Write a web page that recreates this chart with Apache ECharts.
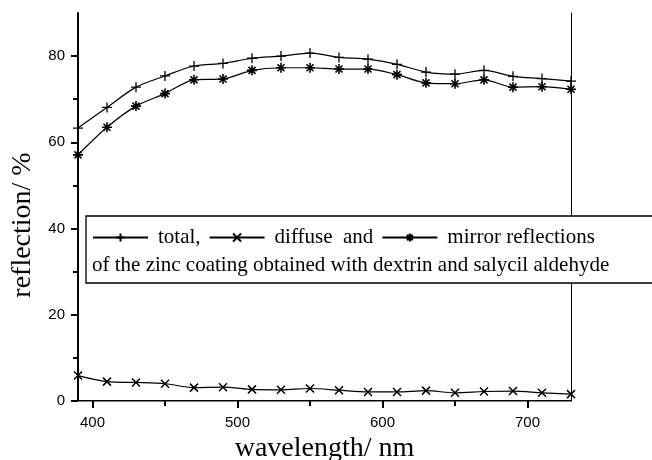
<!DOCTYPE html>
<html>
<head>
<meta charset="utf-8">
<script src="https://cdn.jsdelivr.net/npm/echarts@6/dist/echarts.min.js"></script>
<style>
html,body{margin:0;padding:0;background:#fff;}
#chart{width:652px;height:460px;}
</style>
</head>
<body>
<div id="chart"></div>
<script>
const wavelengths = [390,410,430,450,470,490,510,530,550,570,590,610,630,650,670,690,710,730];
const totalRefl   = [63.3,68.1,72.8,75.4,77.7,78.3,79.5,80.0,80.7,79.7,79.3,78.1,76.3,75.8,76.7,75.3,74.8,74.2];
const diffuseRefl = [5.9,4.5,4.3,4.0,3.1,3.2,2.7,2.6,2.9,2.5,2.1,2.1,2.4,1.9,2.2,2.3,1.9,1.6];
const mirrorRefl  = [57.1,63.5,68.4,71.3,74.5,74.7,76.7,77.3,77.3,77.0,77.0,75.7,73.8,73.6,74.5,72.8,72.9,72.3];
const xMajorTicks = [400,500,600,700];
const xMinorTicks = [450,550,650];
const yMajorTicks = [0,20,40,60,80];
const yMinorTicks = [10,30,50,70];
const seriesNames = ['total,', 'diffuse  and', 'mirror reflections'];
const legendLine2 = 'of the zinc coating obtained with dextrin and salycil aldehyde';
const xTitle = 'wavelength/ nm';
const yTitle = 'reflection/ %';

const pair = vals => wavelengths.map((w,i)=>[w, vals[i]]);

const SYM_PLUS = 'path://M0,5L10,5M5,0L5,10';
const SYM_CROSS = 'path://M0,0L10,10M10,0L0,10';
const SYM_STAR = 'path://M0,5L10,5M5,0L5,10M1.5,1.5L8.5,8.5M8.5,1.5L1.5,8.5';

function mkSeries(name, vals, sym, size, bw){
  return {
    name: name, type: 'line', data: pair(vals), xAxisIndex: 0, yAxisIndex: 0,
    smooth: 0.3, symbol: sym, symbolSize: size, showAllSymbol: true,
    lineStyle: {color: '#000', width: 1.2},
    itemStyle: {color: '#000', borderColor: '#000', borderWidth: bw},
    emphasis: {disabled: true}, z: 3
  };
}

const chart = echarts.init(document.getElementById('chart'), null, {renderer: 'canvas'});
const sans = 'Liberation Sans, Arial, sans-serif';
const serif = 'Liberation Serif, Times New Roman, serif';
chart.setOption({
  animation: false,
  backgroundColor: '#fff',
  grid: {left: 78, top: 13, right: 81, bottom: 59, containLabel: false, outerBoundsMode: 'none'},
  xAxis: [
    {type: 'value', min: 390, max: 730, position: 'bottom',
     axisLine: {lineStyle: {color: '#000', width: 2}},
     axisTick: {show: true, customValues: xMajorTicks, length: 7, lineStyle: {color: '#000', width: 2}},
     axisLabel: {customValues: xMajorTicks, color: '#000', fontFamily: sans, fontSize: 15, margin: 14},
     splitLine: {show: false},
     name: xTitle, nameLocation: 'middle', nameGap: 31,
     nameTextStyle: {fontFamily: serif, fontSize: 28, color: '#000'}},
    {type: 'value', min: 390, max: 730, position: 'bottom', offset: 0,
     axisLine: {show: false},
     axisTick: {show: true, customValues: xMinorTicks, length: 5, lineStyle: {color: '#000', width: 2}},
     axisLabel: {show: false}, splitLine: {show: false}},
    {type: 'value', min: 390, max: 730, position: 'top',
     axisLine: {lineStyle: {color: '#888', width: 1}},
     axisTick: {show: false}, axisLabel: {show: false}, splitLine: {show: false}}
  ],
  yAxis: [
    {type: 'value', min: 0, max: 90, position: 'left',
     axisLine: {show: true, lineStyle: {color: '#000', width: 2}},
     axisTick: {show: true, customValues: yMajorTicks, length: 7, lineStyle: {color: '#000', width: 2}},
     axisLabel: {customValues: yMajorTicks, color: '#000', fontFamily: sans, fontSize: 15, margin: 13},
     splitLine: {show: false}},
    {type: 'value', min: 0, max: 90, position: 'left', offset: 0,
     axisLine: {show: false},
     axisTick: {show: true, customValues: yMinorTicks, length: 5, lineStyle: {color: '#000', width: 2}},
     axisLabel: {show: false}, splitLine: {show: false}},
    {type: 'value', min: 0, max: 90, position: 'right', offset: 0,
     axisLine: {show: true, lineStyle: {color: '#000', width: 1}},
     axisTick: {show: false}, axisLabel: {show: false}, splitLine: {show: false}}
  ],
  legend: {
    show: true, left: 92, top: 227, padding: 0, z: 30,
    itemWidth: 55, itemHeight: 10, itemGap: 8,
    data: seriesNames,
    textStyle: {fontFamily: serif, fontSize: 21, color: '#000', lineHeight: 21, padding: [0,0,0,5]},
    selectedMode: false
  },
  graphic: [
    {type: 'rect', z: 20, shape: {x: 86, y: 216, width: 600, height: 67},
     style: {fill: '#fff', stroke: '#000', lineWidth: 1.3}},
    {type: 'text', z: 31, x: 92, y: 265,
     style: {text: legendLine2, font: '21px ' + serif, fill: '#000', textAlign: 'left', textVerticalAlign: 'middle'}},
    {type: 'text', z: 31, x: 23, y: 225, rotation: Math.PI/2,
     style: {text: yTitle, font: '28px ' + serif, fill: '#000', textAlign: 'center', textVerticalAlign: 'middle'}}
  ],
  series: [
    mkSeries(seriesNames[0], totalRefl, SYM_PLUS, 10, 1.3),
    mkSeries(seriesNames[1], diffuseRefl, SYM_CROSS, 8, 1.5),
    mkSeries(seriesNames[2], mirrorRefl, SYM_STAR, 10, 1.6)
  ]
});
</script>
</body>
</html>
